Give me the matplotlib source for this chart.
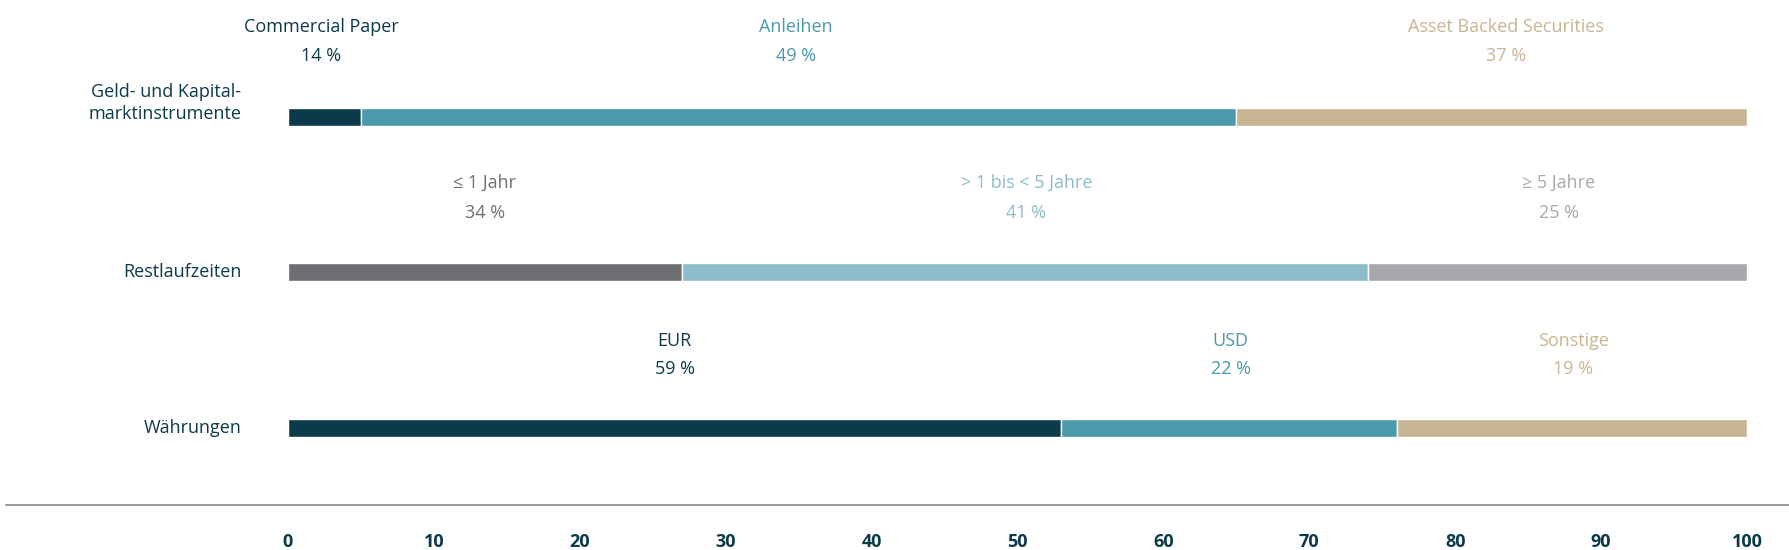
import matplotlib.pyplot as plt
from matplotlib.lines import Line2D

rows = ["Geld- und Kapital-\nmarktinstrumente", "Restlaufzeiten", "Währungen"]
# segment widths as drawn
bar_values = [[5, 60, 35], [27, 47, 26], [53, 23, 24]]
seg_names = [["Commercial Paper", "Anleihen", "Asset Backed Securities"],
             ["≤ 1 Jahr", "> 1 bis < 5 Jahre", "≥ 5 Jahre"],
             ["EUR", "USD", "Sonstige"]]
seg_pcts = [[14, 49, 37], [34, 41, 25], [59, 22, 19]]
label_x = [[2.3, 34.8, 83.5], [13.5, 50.6, 87.1], [26.5, 64.6, 88.1]]
ticks = [0, 10, 20, 30, 40, 50, 60, 70, 80, 90, 100]

colors = [["#0b3a4b", "#4a9aab", "#c8b594"],
          ["#6f6f73", "#8bbccb", "#a8a8ac"],
          ["#0b3a4b", "#4a9aab", "#c8b594"]]

plt.rcParams['font.family'] = ['Open Sans', 'DejaVu Sans']
W, H = 1790, 550
fig = plt.figure(figsize=(W / 100, H / 100), dpi=100)
x0, x1, base = 288, 1747, 505
ax = fig.add_axes([x0 / W, (H - base) / H, (x1 - x0) / W, base / H])
ax.set_xlim(0, 100)
ax.set_ylim(base, 0)

bar_y = [117, 272, 428]
name_y = [27, 183, 341]
pct_y = [56, 213, 369]
for i, row in enumerate(rows):
    left = 0
    for j, v in enumerate(bar_values[i]):
        ax.barh(bar_y[i], v, left=left, height=18, color=colors[i][j],
                edgecolor="white", linewidth=1)
        left += v
        ax.text(label_x[i][j], name_y[i], seg_names[i][j], ha="center", va="center",
                fontsize=13, color=colors[i][j])
        ax.text(label_x[i][j], pct_y[i], f"{seg_pcts[i][j]} %", ha="center", va="center",
                fontsize=13, color=colors[i][j])
    ax.text(-3.2, bar_y[i] - (14 if i == 0 else 0), row, ha="right", va="center",
            fontsize=13, color="#0b3a4b", linespacing=1.3)

for s in ax.spines.values():
    s.set_visible(False)
ax.set_yticks([])
ax.set_xticks(ticks)
ax.tick_params(axis="x", length=0, pad=20, labelsize=13, labelcolor="#0b3a4b")
for lab in ax.get_xticklabels():
    lab.set_fontweight("bold")

fig.add_artist(Line2D([6 / W, 1], [(H - base) / H] * 2, color="#8a8a8a", linewidth=1.2))
fig.savefig("out.png", dpi=100)
